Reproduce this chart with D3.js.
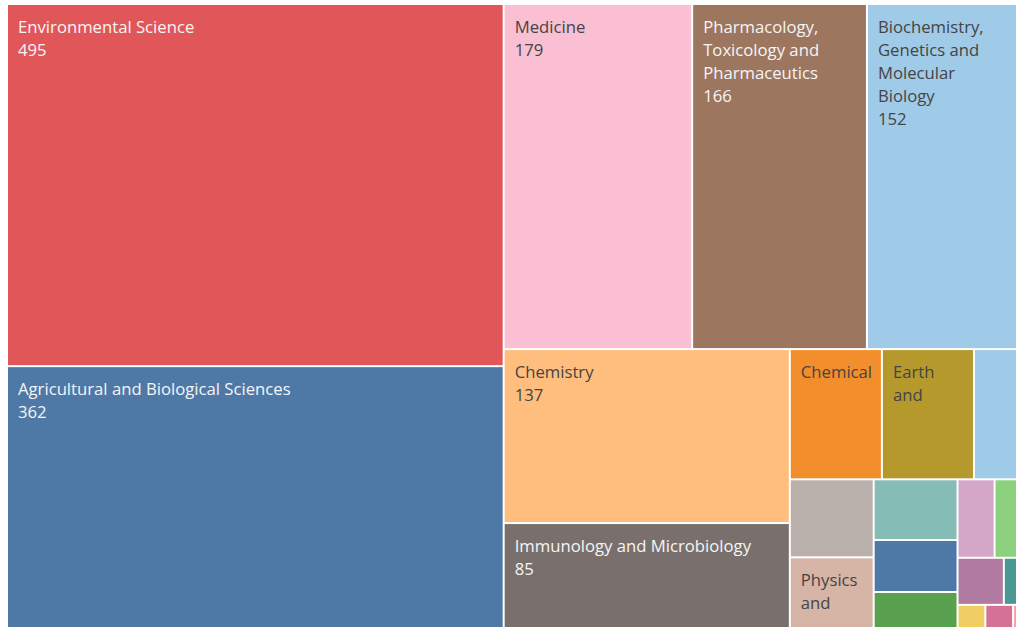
<!DOCTYPE html>
<html>
<head>
<meta charset="utf-8">
<script src="https://cdn.jsdelivr.net/npm/d3@7"></script>
<style>
  body { margin: 0; background: #fff; }
  svg text { font-family: "Open Sans", sans-serif; }
</style>
</head>
<body>
<svg id="chart" width="1016" height="627"></svg>
<script>
// subject areas, alphabetical (this order drives the colour assignment)
const subjects = [
  "Agricultural and Biological Sciences",
  "Biochemistry, Genetics and Molecular Biology",
  "Chemical Engineering",
  "Chemistry",
  "Computer Science",
  "Decision Sciences",
  "Earth and Planetary Sciences",
  "Economics, Econometrics and Finance",
  "Energy",
  "Engineering",
  "Environmental Science",
  "Health Professions",
  "Immunology and Microbiology",
  "Materials Science",
  "Mathematics",
  "Medicine",
  "Multidisciplinary",
  "Neuroscience",
  "Pharmacology, Toxicology and Pharmaceutics",
  "Physics and Astronomy",
  "Psychology",
  "Social Sciences"
]
const counts = [362, 152, 33, 137, 9, 7, 33, 2, 3, 14, 495, 1, 85, 18, 2, 179, 6, 8, 166, 17, 12, 19]

// tableau 20
const tableau20 = [
  "#4E79A7", "#A0CBE8", "#F28E2B", "#FFBE7D", "#59A14F", "#8CD17D", "#B6992D", "#F1CE63",
  "#499894", "#86BCB6", "#E15759", "#FF9D9A", "#79706E", "#BAB0AC", "#D37295", "#FABFD2",
  "#B07AA1", "#D4A6C8", "#9D7660", "#D7B5A6"
]

const margin = { left: 8, top: 5 }
const mapW = 1018 // chart runs past the right / bottom edge of the shot
const mapH = 625

const fontSize = 16.7
const lineH = 23
const padX = 10
const firstBase = 28

const color = d3.scaleOrdinal().domain(subjects).range(tableau20)

const rows = subjects.map((name, i) => ({ name, value: counts[i] }))

const root = d3.hierarchy({ children: rows })
  .sum(d => d.value || 0)
  .sort((a, b) => b.value - a.value)

d3.treemap()
  .tile(d3.treemapSquarify)
  .size([mapW, mapH])
  .paddingInner(2)(root)

const svg = d3.select('#chart')
const g = svg.append('g').attr('transform', `translate(${margin.left},${margin.top})`)

const cell = g.selectAll('g.cell')
  .data(root.leaves())
  .join('g')
  .attr('class', 'cell')
  .attr('transform', d => `translate(${d.x0},${d.y0})`)

cell.append('rect')
  .attr('width', d => d.x1 - d.x0)
  .attr('height', d => d.y1 - d.y0)
  .attr('fill', d => color(d.data.name))

// measuring helper
const probe = svg.append('text').style('font-size', fontSize + 'px').attr('visibility', 'hidden')
function textW(s) {
  probe.text(s)
  return probe.node().getComputedTextLength()
}

// greedy word wrap, stops at the first word that does not fit
function wrapLabel(d) {
  const cw = d.x1 - d.x0
  const h = d.y1 - d.y0
  const words = d.data.name.split(' ')
  const lines = []
  let cur = ''
  let ok = true
  for (const word of words) {
    const test = cur ? cur + ' ' + word : word
    if (textW(test) <= cw - 20) {
      cur = test
    } else if (textW(word) <= cw - 18) {
      if (cur) lines.push(cur)
      cur = word
    } else {
      ok = false
      break
    }
  }
  if (cur) lines.push(cur)
  if (ok) lines.push(String(d.data.value))
  // keep the lines that fit vertically
  return lines.filter((l, i) => firstBase + i * lineH + 4 <= h)
}

cell.each(function (d) {
  const lines = wrapLabel(d)
  if (!lines.length) return
  const dark = d3.lab(color(d.data.name)).l > 60
  d3.select(this).append('text')
    .style('font-size', fontSize + 'px')
    .attr('fill', dark ? '#444' : '#f5f5f5')
    .selectAll('tspan')
    .data(lines)
    .join('tspan')
    .attr('x', padX)
    .attr('y', (l, i) => firstBase + i * lineH)
    .text(l => l)
})

probe.remove()
</script>
</body>
</html>
